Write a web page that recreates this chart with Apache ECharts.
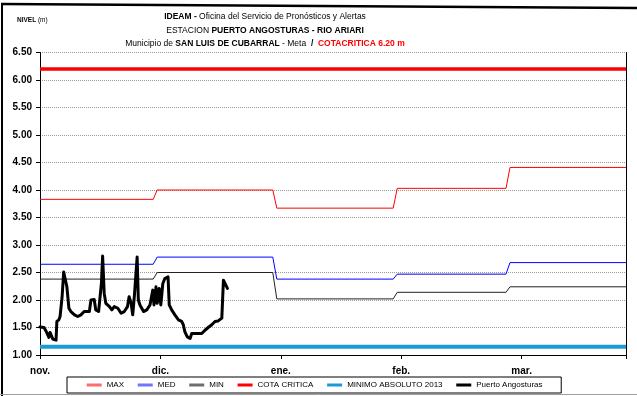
<!DOCTYPE html>
<html>
<head>
<meta charset="utf-8">
<script src="https://cdn.jsdelivr.net/npm/echarts@6/dist/echarts.min.js"></script>
<style>
  html, body { margin: 0; padding: 0; background: #fff; }
  #chart { width: 637px; height: 396px; }
</style>
</head>
<body>
<div id="chart"></div>
<script>
// Month labels of the x axis (one every 30 days from 1 Nov)
const monthLabels = ['nov.', 'dic.', 'ene.', 'feb.', 'mar.'];
const axisEndDay = 146;

// Monthly reference levels (m): day each period begins and its value
const periodStart = [0, 29.2, 59, 89, 117.1];
const maxLevels = [3.83, 4.00, 3.67, 4.03, 4.41];
const medLevels = [2.65, 2.78, 2.38, 2.47, 2.68];
const minLevels = [2.38, 2.50, 2.02, 2.14, 2.24];

// Fixed thresholds (m)
const cotaCritica = 6.20;
const minimoAbsoluto2013 = 1.15;

// Observed level at Puerto Angosturas (day since 1 Nov, level in m)
const angosturasDay = [0, 1.0, 1.6, 2.2, 2.5, 2.8, 3.2, 4.0, 4.2, 4.7, 5.0, 5.5, 5.9, 6.7, 7.2, 7.7, 8.6, 9.4,
  10.2, 11.0, 12.3, 12.7, 13.5, 13.9, 14.6, 15.3, 15.6, 16.0, 16.4, 17.3, 17.9, 18.5, 19.4, 20.2, 21.0,
  21.8, 22.2, 22.7, 23.1, 23.5, 24.2, 24.5, 24.9, 25.8, 26.6, 27.4, 28.1, 28.4, 28.9, 29.2, 29.7, 30.1,
  30.6, 31.1, 31.9, 32.2, 32.8, 33.6, 34.5, 35.3, 35.7, 36.1, 36.7, 37.4, 37.8, 39.0, 40.3, 41.1, 41.9,
  42.8, 43.6, 44.4, 45.3, 45.7, 46.0, 46.7];
const angosturasLevel = [1.51, 1.50, 1.42, 1.32, 1.41, 1.38, 1.29, 1.27, 1.61, 1.64, 1.70, 2.05, 2.51, 2.24, 1.85, 1.79, 1.73, 1.70,
  1.73, 1.79, 1.79, 2.00, 2.01, 1.82, 1.79, 2.30, 2.80, 2.12, 1.94, 1.88, 1.82, 1.88, 1.85, 1.76, 1.79,
  1.88, 2.06, 1.94, 1.73, 2.06, 2.78, 2.00, 1.91, 1.79, 1.82, 1.91, 2.18, 1.91, 2.24, 1.94, 2.21, 1.91,
  2.30, 2.39, 2.42, 1.91, 1.82, 1.73, 1.64, 1.61, 1.55, 1.42, 1.33, 1.30, 1.39, 1.39, 1.39, 1.45, 1.50,
  1.55, 1.61, 1.62, 1.67, 2.36, 2.38, 2.21];

// Build a stepped line: flat within each period, one-day ramp into the next
function stepLine(levels) {
  const pts = [];
  levels.forEach((v, i) => {
    if (i > 0) pts.push([periodStart[i] - 1, levels[i - 1]]);
    pts.push([periodStart[i], v]);
  });
  pts.push([axisEndDay, levels[levels.length - 1]]);
  return pts;
}
function flatLine(v) {
  return [[0, v], [axisEndDay, v]];
}

const sans = "'Liberation Sans', Arial, sans-serif";
const titleSize = 8.5;

const chart = echarts.init(document.getElementById('chart'), null, { renderer: 'canvas' });

chart.setOption({
  animation: false,
  backgroundColor: '#ffffff',
  title: [
    {
      left: 265,
      top: 10,
      padding: 0,
      textAlign: 'center',
      text: '{b|IDEAM -} {n|Oficina del Servicio de Pronósticos y Alertas}\n' +
            '{n|ESTACION }{b|PUERTO ANGOSTURAS - RIO ARIARI}\n' +
            '{n|Municipio de }{b|SAN LUIS DE CUBARRAL}{n| - Meta  }{b|/}{n|  }{r|COTACRITICA 6.20 m}',
      textStyle: {
        fontFamily: sans,
        fontSize: titleSize,
        fontWeight: 'normal',
        lineHeight: 13.5,
        rich: {
          b: { fontFamily: sans, fontSize: titleSize, fontWeight: 'bold', color: '#000', lineHeight: 13.5 },
          n: { fontFamily: sans, fontSize: titleSize, fontWeight: 'normal', color: '#000', lineHeight: 13.5 },
          r: { fontFamily: sans, fontSize: titleSize, fontWeight: 'bold', color: '#ff0000', lineHeight: 13.5 }
        }
      }
    },
    {
      left: 17,
      top: 15,
      padding: 0,
      text: '{b|NIVEL}{n| (m)}',
      textStyle: {
        fontWeight: 'normal',
        rich: {
          b: { fontFamily: sans, fontSize: 6.5, fontWeight: 'bold', color: '#000', lineHeight: 10 },
          n: { fontFamily: sans, fontSize: 6.5, fontWeight: 'normal', color: '#000', lineHeight: 10 }
        }
      }
    }
  ],
  legend: {
    left: 67,
    top: 377,
    padding: [4, 18.7, 4, 19.7],
    borderColor: '#000',
    borderWidth: 1,
    itemWidth: 15,
    itemHeight: 3,
    itemGap: 13.7,
    icon: 'rect',
    textStyle: { fontFamily: sans, fontSize: 8, color: '#000' },
    data: [
      { name: 'MAX', itemStyle: { color: '#ff6b6b' } },
      { name: 'MED', itemStyle: { color: '#7373ff' } },
      { name: 'MIN', itemStyle: { color: '#6e6e6e' } },
      { name: 'COTA CRITICA', itemStyle: { color: '#ff0000' } },
      { name: 'MINIMO ABSOLUTO 2013', itemStyle: { color: '#1a9ad6' } },
      { name: 'Puerto Angosturas', itemStyle: { color: '#000000' } }
    ]
  },
  grid: { left: 40, right: 11, top: 52.5, bottom: 41 },
  xAxis: {
    type: 'value',
    min: 0,
    max: axisEndDay,
    interval: 30,
    axisLine: { lineStyle: { color: '#000', width: 1 } },
    axisTick: { show: true, length: 4, lineStyle: { color: '#000' } },
    splitLine: { show: false },
    axisLabel: {
      margin: 11,
      fontFamily: sans,
      fontSize: 10,
      fontWeight: 'bold',
      color: '#000',
      formatter: v => (v % 30 === 0 ? (monthLabels[v / 30] || '') : '')
    }
  },
  yAxis: [
    {
      type: 'value',
      min: 1,
      max: 6.5,
      interval: 0.5,
      axisLine: { show: true, lineStyle: { color: '#000', width: 1 } },
      axisTick: { show: true, length: 4, lineStyle: { color: '#000' } },
      splitLine: { show: true, lineStyle: { color: '#9a9a9a', type: [1, 1], width: 1 } },
      axisLabel: {
        margin: 8,
        fontFamily: sans,
        fontSize: 10,
        fontWeight: 'bold',
        color: '#000',
        formatter: v => v.toFixed(2)
      }
    },
    {
      type: 'value',
      position: 'right',
      min: 1,
      max: 6.5,
      interval: 0.5,
      axisLine: { show: true, lineStyle: { color: '#000', width: 1 } },
      axisTick: { show: false },
      axisLabel: { show: false },
      splitLine: { show: false }
    }
  ],
  graphic: [
    { type: 'line', shape: { x1: 1, y1: 4, x2: 637, y2: 8 }, style: { stroke: '#000', lineWidth: 2.5 }, z: 100 },
    { type: 'line', shape: { x1: 2, y1: 3, x2: 2, y2: 396 }, style: { stroke: '#000', lineWidth: 2 }, z: 100 },
    { type: 'line', shape: { x1: 0, y1: 394.5, x2: 637, y2: 394.5 }, style: { stroke: '#a0a0a0', lineWidth: 1 }, z: 100 }
  ],
  series: [
    {
      name: 'COTA CRITICA', type: 'line', data: flatLine(cotaCritica), symbol: 'none',
      lineStyle: { color: '#ff0000', width: 3.5 }, itemStyle: { color: '#ff0000' }, z: 2
    },
    {
      name: 'MINIMO ABSOLUTO 2013', type: 'line', data: flatLine(minimoAbsoluto2013), symbol: 'none',
      lineStyle: { color: '#1a9ad6', width: 4 }, itemStyle: { color: '#1a9ad6' }, z: 2
    },
    {
      name: 'MAX', type: 'line', data: stepLine(maxLevels), symbol: 'none',
      lineStyle: { color: '#ff0000', width: 1 }, itemStyle: { color: '#ff0000' }, z: 3
    },
    {
      name: 'MED', type: 'line', data: stepLine(medLevels), symbol: 'none',
      lineStyle: { color: '#0000ff', width: 1 }, itemStyle: { color: '#0000ff' }, z: 3
    },
    {
      name: 'MIN', type: 'line', data: stepLine(minLevels), symbol: 'none',
      lineStyle: { color: '#222222', width: 1 }, itemStyle: { color: '#222222' }, z: 3
    },
    {
      name: 'Puerto Angosturas', type: 'line',
      data: angosturasDay.map((d, i) => [d, angosturasLevel[i]]),
      symbol: 'none',
      lineStyle: { color: '#000', width: 3, join: 'round', cap: 'round' },
      itemStyle: { color: '#000' }, z: 4
    }
  ]
});
</script>
</body>
</html>
